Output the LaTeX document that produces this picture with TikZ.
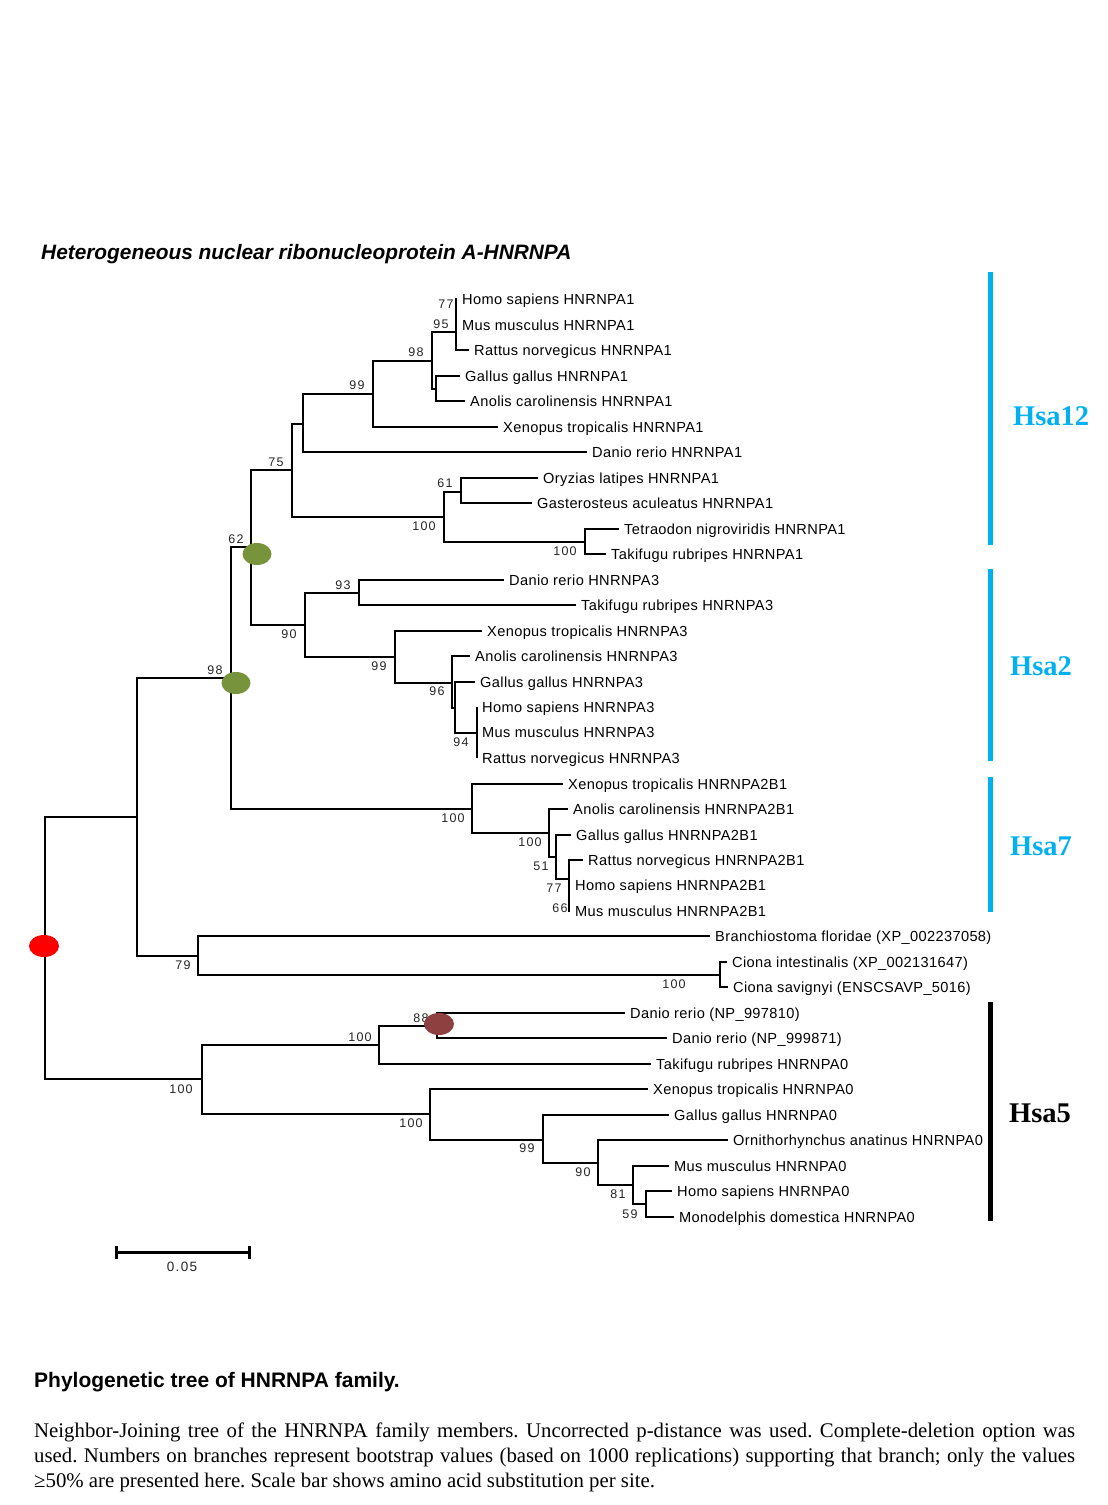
\documentclass[tikz,border=0pt]{standalone}
\usepackage{fontspec}
\setmainfont{Liberation Serif}
\newfontfamily\arialf{Liberation Sans}
\newfontfamily\arialsp[LetterSpace=2.5]{Liberation Sans}
\newfontfamily\arialbs[LetterSpace=10]{Liberation Sans}
\newfontfamily\tnrf{Liberation Serif}
\definecolor{hsablue}{HTML}{00B0F0}
\definecolor{dotgreen}{HTML}{77933C}
\definecolor{dotred}{HTML}{FF0000}
\definecolor{dotbrown}{HTML}{8E4040}
\usetikzlibrary{shapes.geometric}
\tikzset{
  br/.style={line width=1.4pt},
  leaflab/.style={anchor=west, inner xsep=5pt, inner ysep=0pt,
    font=\arialsp\fontsize{14.6}{16}\selectfont, text height=10.5pt, text depth=0pt},
  bs/.style={inner sep=0pt, font=\arialbs\fontsize{12.5}{14}\selectfont,
    text height=9pt, text depth=0pt, text=black!85},
  hsa/.style={anchor=west, inner sep=0pt, font=\tnrf\bfseries\fontsize{28.5}{30}\selectfont,
    text height=19pt, text depth=0pt},
  cladebar/.style={line width=4.5pt},
  dot/.style={ellipse, minimum width=29pt, minimum height=22pt, inner sep=0pt, draw=none}
}
\begin{document}
\begin{tikzpicture}[x=1pt,y=-1pt]
\useasboundingbox (0,0) rectangle (1108,1505);
\fill[white] (0,0) rectangle (1108,1505);

% title
\node[anchor=base west, inner sep=0pt, font=\arialf\bfseries\itshape\fontsize{20.85}{24}\selectfont]
  (title) at (41,259) {Heterogeneous nuclear ribonucleoprotein A-HNRNPA};

% internal nodes
\coordinate (R) at (45,948);
\coordinate (A) at (137,817);
\coordinate (B) at (202,1079);
\coordinate (n98) at (231,678);
\coordinate (n79) at (198,956);
\coordinate (n62) at (251,547);
\coordinate (n2b) at (472,809);
\coordinate (n75) at (292,470);
\coordinate (n90) at (305,625);
\coordinate (nAa) at (303,424);
\coordinate (nFish) at (444,517);
\coordinate (n99a) at (373,394);
\coordinate (n98a) at (432,361);
\coordinate (n95) at (456,332);
\coordinate (n77a) at (456,312);
\coordinate (nGA) at (436,389);
\coordinate (n61) at (461,492);
\coordinate (nTT) at (585,542);
\coordinate (n93) at (359,593);
\coordinate (n99b) at (395,657);
\coordinate (n96) at (452,683);
\coordinate (nG3) at (455,708);
\coordinate (n94) at (477,733);
\coordinate (n100c) at (549,833);
\coordinate (n51) at (556,857);
\coordinate (n77b) at (569,879);
\coordinate (n66) at (569,898);
\coordinate (nCi) at (720,975);
\coordinate (n100e) at (379,1045);
\coordinate (n100f) at (430,1114);
\coordinate (n88) at (437,1026);
\coordinate (n99c) at (543,1140);
\coordinate (n90c) at (598,1163);
\coordinate (n81) at (633,1185);
\coordinate (n59) at (646,1204);

% leaves
\node[leaflab] (l1) at (457,299) {Homo sapiens HNRNPA1};
\node[leaflab] (l2) at (457,325) {Mus musculus HNRNPA1};
\node[leaflab] (l3) at (469,350) {Rattus norvegicus HNRNPA1};
\node[leaflab] (l4) at (460,376) {Gallus gallus HNRNPA1};
\node[leaflab] (l5) at (465,401) {Anolis carolinensis HNRNPA1};
\node[leaflab] (l6) at (498,427) {Xenopus tropicalis HNRNPA1};
\node[leaflab] (l7) at (587,452) {Danio rerio HNRNPA1};
\node[leaflab] (l8) at (538,478) {Oryzias latipes HNRNPA1};
\node[leaflab] (l9) at (532,503) {Gasterosteus aculeatus HNRNPA1};
\node[leaflab] (l10) at (619,529) {Tetraodon nigroviridis HNRNPA1};
\node[leaflab] (l11) at (606,554) {Takifugu rubripes HNRNPA1};
\node[leaflab] (l12) at (504,580) {Danio rerio HNRNPA3};
\node[leaflab] (l13) at (576,605) {Takifugu rubripes HNRNPA3};
\node[leaflab] (l14) at (482,631) {Xenopus tropicalis HNRNPA3};
\node[leaflab] (l15) at (470,656) {Anolis carolinensis HNRNPA3};
\node[leaflab] (l16) at (475,682) {Gallus gallus HNRNPA3};
\node[leaflab] (l17) at (477,707) {Homo sapiens HNRNPA3};
\node[leaflab] (l18) at (477,732) {Mus musculus HNRNPA3};
\node[leaflab] (l19) at (477,758) {Rattus norvegicus HNRNPA3};
\node[leaflab] (l20) at (563,784) {Xenopus tropicalis HNRNPA2B1};
\node[leaflab] (l21) at (568,809) {Anolis carolinensis HNRNPA2B1};
\node[leaflab] (l22) at (571,835) {Gallus gallus HNRNPA2B1};
\node[leaflab] (l23) at (583,860) {Rattus norvegicus HNRNPA2B1};
\node[leaflab] (l24) at (570,885) {Homo sapiens HNRNPA2B1};
\node[leaflab] (l25) at (570,911) {Mus musculus HNRNPA2B1};
\node[leaflab] (l26) at (710,936) {Branchiostoma floridae (XP\_002237058)};
\node[leaflab] (l27) at (727,962) {Ciona intestinalis (XP\_002131647)};
\node[leaflab] (l28) at (728,987) {Ciona savignyi (ENSCSAVP\_5016)};
\node[leaflab] (l29) at (625,1013) {Danio rerio (NP\_997810)};
\node[leaflab] (l30) at (667,1038) {Danio rerio (NP\_999871)};
\node[leaflab] (l31) at (651,1064) {Takifugu rubripes HNRNPA0};
\node[leaflab] (l32) at (648,1089) {Xenopus tropicalis HNRNPA0};
\node[leaflab] (l33) at (669,1115) {Gallus gallus HNRNPA0};
\node[leaflab] (l34) at (728,1140) {Ornithorhynchus anatinus HNRNPA0};
\node[leaflab] (l35) at (669,1166) {Mus musculus HNRNPA0};
\node[leaflab] (l36) at (672,1191) {Homo sapiens HNRNPA0};
\node[leaflab] (l37) at (674,1217) {Monodelphis domestica HNRNPA0};

% branches between internal nodes
\foreach \p/\c in {R/A, R/B, A/n98, A/n79, n98/n62, n98/n2b, n62/n75, n62/n90,
  n75/nAa, n75/nFish, nAa/n99a, n99a/n98a, n98a/n95, n98a/nGA, n95/n77a,
  nFish/n61, nFish/nTT, n90/n93, n90/n99b, n99b/n96, n96/nG3, nG3/n94,
  n2b/n100c, n100c/n51, n51/n77b, n77b/n66, n79/nCi,
  B/n100e, B/n100f, n100e/n88, n100f/n99c, n99c/n90c, n90c/n81, n81/n59}
  \draw[br] (\p) |- (\c);
% branches to leaves
\foreach \p/\c in {n77a/l1, n77a/l2, n95/l3, nGA/l4, nGA/l5, n99a/l6, nAa/l7,
  n61/l8, n61/l9, nTT/l10, nTT/l11, n93/l12, n93/l13, n99b/l14, n96/l15,
  nG3/l16, n94/l17, n94/l18, n94/l19, n2b/l20, n100c/l21, n51/l22, n77b/l23,
  n66/l24, n66/l25, n79/l26, nCi/l27, nCi/l28, n88/l29, n88/l30, n100e/l31,
  n100f/l32, n99c/l33, n90c/l34, n81/l35, n59/l36, n59/l37}
  \draw[br] (\p) |- (\c.west);

% bootstrap values
\foreach \n/\x/\y/\t in {b1/446/304/77, b2/441/324/95, b3/416/352/98, b4/357/385/99,
  b5/276/462/75, b6/445/483/61, b7/424/526/100, b8/565/551/100, b9/236/539/62,
  b10/343/585/93, b11/289/634/90, b12/379/666/99, b13/437/691/96, b14/461/742/94,
  b15/215/670/98, b16/453/818/100, b17/530/842/100, b18/541/866/51, b19/554/888/77,
  b20/560/908/66, b21/183/965/79, b22/674/984/100, b23/421/1018/88, b24/360/1037/100,
  b25/181/1089/100, b26/411/1123/100, b27/527/1148/99, b28/583/1172/90,
  b29/618/1194/81, b30/630/1214/59}
  \node[bs] (\n) at (\x,\y) {\t};

% marker dots
\node[dot, fill=dotgreen] (g1) at (257,554) {};
\node[dot, fill=dotgreen] (g2) at (236,683) {};
\node[dot, fill=dotred, minimum width=30pt] (rd) at (44,946) {};
\node[dot, fill=dotbrown, minimum width=30pt] (bd) at (439,1024) {};

% clade bars
\coordinate (c12a) at (990.5,272); \coordinate (c12b) at (990.5,545);
\coordinate (c2a) at (990.5,569);  \coordinate (c2b) at (990.5,761);
\coordinate (c7a) at (990.5,777);  \coordinate (c7b) at (990.5,912);
\coordinate (c5a) at (990.5,1002); \coordinate (c5b) at (990.5,1221);
\draw[cladebar, hsablue] (c12a) -- (c12b);
\draw[cladebar, hsablue] (c2a) -- (c2b);
\draw[cladebar, hsablue] (c7a) -- (c7b);
\draw[cladebar, black, line width=5pt] (c5a) -- (c5b);
\node[hsa, text=hsablue] (h12) at (1013,416) {Hsa12};
\node[hsa, text=hsablue] (h2) at (1010,666) {Hsa2};
\node[hsa, text=hsablue] (h7) at (1010,846) {Hsa7};
\node[hsa, text=black] (h5) at (1009,1113) {Hsa5};

% scale bar
\coordinate (s1) at (116,1252); \coordinate (s2) at (249,1252);
\draw[line width=3pt] (s1) -- (s2);
\draw[line width=3pt] ([yshift=-6.5pt]s1) -- ([yshift=6.5pt]s1);
\draw[line width=3pt] ([yshift=-6.5pt]s2) -- ([yshift=6.5pt]s2);
\node[bs, font=\arialbs\fontsize{13.5}{15}\selectfont] (slab) at (182,1267) {0.05};

% caption
\node[anchor=base west, inner sep=0pt, font=\arialf\bfseries\fontsize{21}{24}\selectfont]
  (cap) at (34,1387) {Phylogenetic tree of HNRNPA family.};
\node[anchor=base west, inner sep=0pt, font=\tnrf\frenchspacing\fontsize{20.8}{25}\selectfont] (p1) at (34,1437)
  {\makebox[1041pt][s]{Neighbor-Joining tree of the HNRNPA family members. Uncorrected p-distance was used. Complete-deletion option was}};
\node[anchor=base west, inner sep=0pt, font=\tnrf\frenchspacing\fontsize{20.8}{25}\selectfont] (p2) at (34,1462)
  {\makebox[1041pt][s]{used. Numbers on branches represent bootstrap values (based on 1000 replications) supporting that branch; only the values}};
\node[anchor=base west, inner sep=0pt, font=\tnrf\frenchspacing\fontsize{20.8}{25}\selectfont] (p3) at (34,1487)
  {≥50\% are presented here. Scale bar shows amino acid substitution per site.};
\end{tikzpicture}
\end{document}
